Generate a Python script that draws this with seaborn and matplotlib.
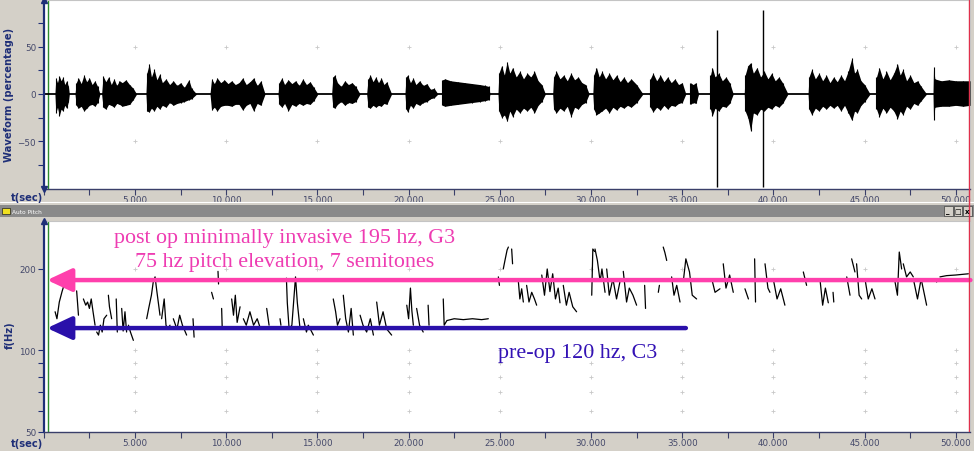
import numpy as np
import pandas as pd
import matplotlib
matplotlib.use("Agg")
import matplotlib.pyplot as plt
from matplotlib.patches import Rectangle
from matplotlib.lines import Line2D
from matplotlib.ticker import FixedLocator, NullFormatter, FixedFormatter
import seaborn as sns

# ---------------- data ----------------
# waveform envelope bursts: (time s, top %, bottom %)
WAVE_BURSTS = [
    [(0.61,0,0),(0.66,17,-20),(0.75,12,-14),(0.85,19,-23),(0.95,14,-16),(1.05,18,-18),(1.15,10,-12),(1.25,14,-15),(1.35,8,-8),(1.40,0,0)],
    [(1.71,0,0),(1.78,12,-12),(1.9,17,-15),(2.05,11,-13),(2.2,20,-18),(2.35,13,-15),(2.5,17,-12),(2.65,10,-11),(2.8,14,-13),(2.95,8,-9),(3.08,0,0)],
    [(3.17,0,0),(3.25,19,-14),(3.4,13,-16),(3.55,18,-11),(3.7,10,-12),(3.85,16,-14),(4.0,9,-10),(4.15,14,-11),(4.3,12,-13),(4.5,15,-12),(4.7,10,-11),(4.9,6,-6),(5.09,0,0)],
    [(5.60,0,0),(5.65,22,-18),(5.78,32,-19),(5.9,18,-15),(6.05,26,-18),(6.2,15,-13),(6.35,21,-16),(6.5,12,-12),(6.7,16,-14),(6.9,10,-9),(7.1,14,-12),(7.3,9,-10),(7.5,12,-9),(7.7,7,-8),(7.95,15,-6),(8.1,6,-5),(8.38,0,0)],
    [(9.11,0,0),(9.2,16,-17),(9.35,11,-14),(9.5,17,-18),(9.7,12,-13),(9.9,15,-12),(10.1,11,-12),(10.3,14,-13),(10.5,10,-11),(10.7,12,-11),(10.9,17,-17),(11.1,10,-12),(11.3,13,-10),(11.5,17,-18),(11.7,9,-10),(11.9,14,-12),(12.13,0,0)],
    [(12.84,0,0),(12.9,12,-11),(13.05,17,-14),(13.2,10,-10),(13.4,15,-18),(13.6,11,-11),(13.8,14,-13),(14.0,9,-10),(14.2,16,-12),(14.4,10,-10),(14.6,13,-11),(14.8,7,-7),(15.03,0,0)],
    [(15.78,0,0),(15.85,18,-14),(15.95,20,-15),(16.1,12,-11),(16.3,8,-8),(16.5,14,-12),(16.7,10,-9),(16.9,12,-10),(17.1,8,-8),(17.34,0,0)],
    [(17.70,0,0),(17.78,16,-14),(17.9,20,-15),(18.05,13,-12),(18.2,18,-14),(18.35,12,-12),(18.5,17,-13),(18.65,10,-10),(18.8,13,-11),(19.07,0,0)],
    [(19.80,0,0),(19.86,18,-16),(19.95,20,-19),(20.1,12,-12),(20.25,17,-15),(20.4,10,-10),(20.6,14,-12),(20.8,9,-9),(21.0,11,-8),(21.2,5,-5),(21.4,6,-4),(21.61,0,0)],
    [(21.81,0,0),(21.85,15,-12),(22.0,16,-13),(22.3,14,-12),(22.7,13,-11),(23.1,12,-10),(23.5,11,-9),(23.9,10,-8),(24.2,9,-7),(24.4,8,-6),(24.46,0,0)],
    [(24.90,0,0),(24.95,22,-18),(25.1,30,-25),(25.25,20,-22),(25.4,34,-29),(25.55,22,-18),(25.7,28,-24),(25.9,18,-16),(26.1,24,-20),(26.3,16,-15),(26.5,22,-18),(26.7,18,-14),(26.9,24,-20),(27.1,14,-12),(27.3,10,-8),(27.50,0,0)],
    [(27.9,0,0),(27.95,18,-16),(28.1,24,-20),(28.3,16,-15),(28.5,20,-18),(28.7,14,-13),(28.9,22,-24),(29.1,15,-14),(29.3,18,-16),(29.5,12,-11),(29.7,10,-9),(29.9,0,0)],
    [(30.1,0,0),(30.15,20,-16),(30.3,28,-22),(30.45,18,-20),(30.6,24,-18),(30.8,16,-15),(31.0,22,-20),(31.2,15,-14),(31.4,20,-17),(31.6,13,-13),(31.8,18,-15),(32.0,12,-12),(32.2,16,-14),(32.5,10,-9),(32.85,0,0)],
    [(33.2,0,0),(33.25,16,-14),(33.4,22,-19),(33.6,14,-14),(33.8,20,-17),(34.0,13,-12),(34.2,18,-16),(34.4,12,-12),(34.6,16,-13),(34.8,10,-10),(35.0,12,-9),(35.2,0,0)],
    [(35.4,0,0),(35.45,12,-11),(35.6,10,-9),(35.75,12,-10),(35.9,0,0)],
    [(36.5,0,0),(36.55,20,-16),(36.65,28,-23),(36.8,18,-15),(37.0,22,-18),(37.2,14,-13),(37.4,18,-14),(37.6,12,-10),(37.8,0,0)],
    [(38.4,0,0),(38.45,20,-18),(38.6,30,-25),(38.75,33,-39),(38.9,22,-20),(39.1,28,-22),(39.3,18,-16),(39.5,24,-18),(39.7,16,-14),(39.9,22,-16),(40.1,14,-12),(40.3,18,-14),(40.5,12,-10),(40.8,0,0)],
    [(41.9,0,0),(41.95,18,-16),(42.1,26,-22),(42.3,16,-15),(42.5,22,-18),(42.7,14,-13),(42.9,20,-16),(43.1,12,-12),(43.3,18,-15),(43.5,13,-12),(43.7,20,-18),(43.9,14,-12),(44.1,24,-20),(44.3,38,-28),(44.45,22,-18),(44.6,26,-20),(44.8,14,-12),(45.0,10,-8),(45.3,0,0)],
    [(45.6,0,0),(45.65,18,-16),(45.8,28,-24),(46.0,16,-15),(46.2,24,-20),(46.4,15,-14),(46.6,22,-18),(46.8,32,-26),(46.95,20,-18),(47.1,26,-22),(47.3,14,-13),(47.5,20,-16),(47.7,12,-10),(47.9,14,-12),(48.1,8,-7),(48.4,0,0)],
    [(48.75,0,0),(48.78,29,-27),(48.85,16,-14),(49.2,14,-13),(49.6,15,-13),(50.0,14,-12),(50.4,14,-13),(50.78,14,-12)],
]
SPIKE_T = [36.91, 39.43]
SPIKE_TOP = [68, 89]
SPIKE_BOT = [-98, -98]

# pitch contour pieces: (time s, Hz)
PITCH_SEGMENTS = [
    [(0.62,139),(0.72,131),(0.85,151),(1.0,165),(1.16,179)],
    [(1.80,166),(1.85,150),(1.90,135)],
    [(2.17,155),(2.3,147),(2.4,151),(2.5,143),(2.6,155),(2.7,139),(2.81,124)],
    [(2.90,117),(3.0,114),(3.1,124),(3.2,117),(3.3,131),(3.45,135)],
    [(3.54,160),(3.60,145),(3.72,131)],
    [(3.97,155),(4.0,135),(4.03,117)],
    [(4.27,143),(4.35,118),(4.45,139),(4.54,117)],
    [(4.64,124),(4.75,117),(4.91,109)],
    [(5.64,131),(5.75,143),(5.9,160),(6.0,179),(6.1,187),(6.2,165),(6.37,135)],
    [(6.46,131),(6.6,155),(6.7,124),(6.8,120),(6.92,124)],
    [(7.1,131),(7.3,120),(7.45,135),(7.6,124),(7.83,114)],
    [(8.18,131),(8.24,112)],
    [(9.2,164),(9.3,155)],
    [(9.55,196),(9.58,176)],
    [(9.75,143),(9.78,122)],
    [(10.3,155),(10.4,135),(10.5,160),(10.6,127),(10.76,145)],
    [(10.94,131),(11.1,124),(11.3,139),(11.5,124),(11.7,131),(11.85,122)],
    [(12.22,143),(12.35,124)],
    [(12.95,131),(13.0,124)],
    [(13.3,185),(13.35,150),(13.45,120),(13.6,124),(13.8,187),(13.9,150),(14.05,120)],
    [(14.23,131),(14.4,117),(14.5,124),(14.78,114)],
    [(15.87,155),(16.0,139),(16.1,124),(16.24,131)],
    [(16.42,160),(16.55,131),(16.7,117),(16.85,143),(16.97,114)],
    [(17.34,135),(17.5,124),(17.7,117),(17.9,131),(18.07,114)],
    [(18.25,151),(18.4,124),(18.6,139),(18.8,120),(19.07,114)],
    [(19.9,147),(20.0,131),(20.1,170),(20.18,140),(20.26,124)],
    [(20.44,143),(20.6,124),(20.8,117)],
    [(21.07,147),(21.12,124)],
    [(21.9,155),(21.95,124),(22.1,129),(22.5,131),(23.0,130),(23.5,131),(24.0,130),(24.37,131)],
    [(24.92,187),(24.98,174)],
    [(25.19,200),(25.3,218),(25.4,235),(25.47,241)],
    [(25.65,237),(25.7,209)],
    [(26.02,179),(26.1,155),(26.2,169),(26.29,151)],
    [(26.47,174),(26.6,151),(26.75,164),(26.9,155),(27.02,147)],
    [(27.30,190),(27.45,160),(27.6,200),(27.75,165),(27.9,192),(28.05,155),(28.2,170),(28.30,150)],
    [(28.48,174),(28.65,147),(28.8,164),(29.0,145),(29.21,139)],
    [(30.04,160),(30.1,237),(30.2,232)],
    [(30.22,237),(30.35,215),(30.5,180),(30.6,200),(30.77,164)],
    [(30.86,200),(31.0,160),(31.2,184),(31.4,155),(31.59,180)],
    [(31.77,196),(31.95,151),(32.1,170),(32.3,160),(32.5,147)],
    [(32.94,174),(32.99,143)],
    [(33.69,164),(33.75,174)],
    [(33.96,241),(34.05,230),(34.15,215)],
    [(34.42,187),(34.55,160),(34.7,174),(34.88,151)],
    [(35.06,180),(35.2,218),(35.4,195),(35.55,160),(35.79,155)],
    [(36.62,184),(36.8,164),(37.07,169)],
    [(37.25,209),(37.4,170),(37.6,190),(37.8,164)],
    [(38.44,169),(38.63,155)],
    [(38.97,218),(39.02,151)],
    [(39.54,209),(39.7,170),(39.81,164)],
    [(39.99,184),(40.2,155),(40.4,169),(40.63,147)],
    [(41.64,195),(41.82,174)],
    [(42.55,184),(42.7,147),(42.85,170),(43.01,150)],
    [(43.27,164),(43.31,151)],
    [(44.02,187),(44.2,160)],
    [(44.29,218),(44.47,195)],
    [(44.56,209),(44.7,160),(44.84,155)],
    [(45.02,184),(45.2,155),(45.4,169),(45.57,155)],
    [(46.67,179),(46.8,160),(46.9,231),(47.03,200)],
    [(47.12,209),(47.3,187),(47.5,195),(47.67,187)],
    [(47.7,180),(47.9,155),(48.1,184),(48.40,147)],
    [(48.86,184),(48.95,179)],
    [(49.13,187),(49.5,189),(50.0,190),(50.69,192)],
]

X_TICKS = [5, 10, 15, 20, 25, 30, 35, 40, 45, 50]
X_MINOR = [0, 2.5, 7.5, 12.5, 17.5, 22.5, 27.5, 32.5, 37.5, 42.5, 47.5]
X_LABELS = ["5.000", "10.000", "15.000", "20.000", "25.000", "30.000", "35.000", "40.000", "45.000", "50.000"]
WAVE_TICKS = [-50, 0, 50]
WAVE_MINOR = [-75, -25, 25, 75]
PITCH_TICKS = [50, 100, 200]
PITCH_MINOR = [60, 70, 80, 90]

POST_OP_HZ = 182
PRE_OP_HZ = 121
POST_TEXT = "post op minimally invasive 195 hz, G3\n75 hz pitch elevation, 7 semitones"
PRE_TEXT = "pre-op 120 hz, C3"
GREEN_T = 0.23
RED_T = 50.72

# ---------------- figure ----------------
sns.set_theme(style="white")
plt.rcParams["font.family"] = ["DejaVu Sans"]
BG = "#d4d0c8"
NAVY = "#1f2f78"
LBL = "#44486a"

W_PX, H_PX = 974, 452
fig = plt.figure(figsize=(W_PX / 100, H_PX / 100), dpi=100, facecolor=BG)

L = 43.8 / W_PX
WID = (970.4 - 43.8) / W_PX
ax1 = fig.add_axes([L, 1 - 189.5 / H_PX, WID, 189.0 / H_PX])
ax2 = fig.add_axes([L, 1 - 433.0 / H_PX, WID, 210.7 / H_PX])

for ax in (ax1, ax2):
    ax.set_facecolor("white")
    ax.set_xlim(0, 50.8)
    for s in ("top", "right"):
        ax.spines[s].set_color("#c4c4c4")
        ax.spines[s].set_linewidth(0.8)
    ax.spines["left"].set_color(NAVY)
    ax.spines["left"].set_linewidth(1.6)
    ax.spines["bottom"].set_color("#3a3f6a")
    ax.spines["bottom"].set_linewidth(1.0)
    ax.xaxis.set_major_locator(FixedLocator(X_TICKS))
    ax.xaxis.set_major_formatter(FixedFormatter(X_LABELS))
    ax.xaxis.set_minor_locator(FixedLocator(X_MINOR))
    ax.tick_params(axis="x", which="both", direction="out", length=4, width=0.8,
                   color="#3a3f6a", labelsize=6.3, labelcolor=LBL, pad=0.5, bottom=True)
    ax.tick_params(axis="y", which="both", direction="out", length=4, width=0.8,
                   color=NAVY, labelsize=6.3, labelcolor=LBL, pad=1.5, left=True)
    ax.axvline(GREEN_T, color="#2e8b2e", lw=1.0, zorder=1)
    ax.axvline(RED_T, color="#e0304c", lw=1.0, zorder=6)

# ---- waveform panel ----
ax1.set_ylim(-100, 100)
ax1.yaxis.set_major_locator(FixedLocator(WAVE_TICKS))
ax1.yaxis.set_minor_locator(FixedLocator(WAVE_MINOR))
ax1.yaxis.set_minor_formatter(NullFormatter())
gx, gy = np.meshgrid(X_TICKS, [-50, 50])
ax1.plot(gx.ravel(), gy.ravel(), ls="none", marker="+", ms=3, mew=0.6, color="#c8c8c8", zorder=1)
ax1.axhline(0, color="black", lw=1.3, zorder=2)
for burst in WAVE_BURSTS:
    arr = np.array(burst, dtype=float)
    ax1.fill_between(arr[:, 0], arr[:, 2], arr[:, 1], color="black", lw=0, zorder=3)
    ax1.vlines(arr[:, 0], arr[:, 2], arr[:, 1], color="black", lw=0.8, zorder=3)
ax1.vlines(SPIKE_T, SPIKE_BOT, SPIKE_TOP, color="black", lw=1.0, zorder=3)
ax1.plot([0], [1], marker="^", ms=5, color=NAVY, transform=ax1.transAxes, clip_on=False, zorder=7)
ax1.plot([0], [0], marker="v", ms=5, color=NAVY, transform=ax1.transAxes, clip_on=False, zorder=7)

# ---- pitch panel ----
rows = []
for i, seg in enumerate(PITCH_SEGMENTS):
    for t, f in seg:
        rows.append({"seg": i, "t": t, "f": f})
pitch_df = pd.DataFrame(rows)
ax2.set_yscale("log")
ax2.set_ylim(50, 300)
gx, gy = np.meshgrid(X_TICKS, PITCH_MINOR + [100, 200])
ax2.plot(gx.ravel(), gy.ravel(), ls="none", marker="+", ms=3, mew=0.6, color="#c8c8c8", zorder=1)
sns.lineplot(data=pitch_df, x="t", y="f", units="seg", estimator=None, color="black",
             lw=0.9, ax=ax2, legend=False, zorder=3)
ax2.set_xlabel("")
ax2.set_ylabel("")
ax2.yaxis.set_major_locator(FixedLocator(PITCH_TICKS))
ax2.yaxis.set_major_formatter(FixedFormatter([str(v) for v in PITCH_TICKS]))
ax2.yaxis.set_minor_locator(FixedLocator(PITCH_MINOR))
ax2.yaxis.set_minor_formatter(NullFormatter())
ax2.tick_params(axis="y", which="both", direction="out", length=4, width=0.8,
                color=NAVY, labelsize=6.3, labelcolor=LBL, pad=1.5, left=True)
ax2.plot([0], [1], marker="^", ms=5, color=NAVY, transform=ax2.transAxes, clip_on=False, zorder=7)

PINK = "#ff3fac"
BLUE = "#2a10aa"
ax2.annotate("", xy=(0.18, POST_OP_HZ), xytext=(50.8, POST_OP_HZ),
             arrowprops=dict(arrowstyle="-|>,head_length=0.75,head_width=0.35", color=PINK,
                             lw=3.2, mutation_scale=20, shrinkA=0, shrinkB=0), zorder=5)
ax2.annotate("", xy=(0.18, PRE_OP_HZ), xytext=(35.2, PRE_OP_HZ),
             arrowprops=dict(arrowstyle="-|>,head_length=0.75,head_width=0.35", color=BLUE,
                             lw=3.2, mutation_scale=20, shrinkA=0, shrinkB=0), zorder=5)
ax2.text(13.2, 236, POST_TEXT, color="#ee3cb2", fontsize=15.8, ha="center", va="center",
         family=["Liberation Serif", "DejaVu Serif"], linespacing=1.3, zorder=6)
ax2.text(24.9, 98.5, PRE_TEXT, color="#3312b5", fontsize=15.8, ha="left", va="center",
         family=["Liberation Serif", "DejaVu Serif"], zorder=6)

# ---- axis titles ----
fig.text(9.5 / W_PX, 1 - 95 / H_PX, "Waveform (percentage)", rotation=90, color=NAVY,
         fontsize=7.2, fontweight="bold", ha="center", va="center")
fig.text(9.5 / W_PX, 1 - 335 / H_PX, "f(Hz)", rotation=90, color=NAVY,
         fontsize=7.2, fontweight="bold", ha="center", va="center")
fig.text(27 / W_PX, 1 - 198.5 / H_PX, "t(sec)", color=NAVY, fontsize=7.2,
         fontweight="bold", ha="center", va="center")
fig.text(27 / W_PX, 1 - 444.5 / H_PX, "t(sec)", color=NAVY, fontsize=7.2,
         fontweight="bold", ha="center", va="center")

# ---- "Auto Pitch" window title bar ----
fig.add_artist(Line2D([0, 1], [1 - 203 / H_PX] * 2, color="white", lw=0.8, transform=fig.transFigure))
fig.patches.append(Rectangle((0, 1 - 218 / H_PX), 1, 12 / H_PX, transform=fig.transFigure,
                             facecolor="#8a8a8a", edgecolor="none", zorder=0))
fig.patches.append(Rectangle((2 / W_PX, 1 - 215 / H_PX), 8 / W_PX, 6 / H_PX, transform=fig.transFigure,
                             facecolor="#f0e020", edgecolor="#202020", lw=0.5))
fig.text(12 / W_PX, 1 - 212 / H_PX, "Auto Pitch", color="white", fontsize=4.2, va="center", ha="left")
for k, glyph in enumerate(["_", "□", "x"]):
    x0 = 944 + k * 9.5
    fig.patches.append(Rectangle((x0 / W_PX, 1 - 217 / H_PX), 8.5 / W_PX, 10 / H_PX,
                                 transform=fig.transFigure, facecolor=BG, edgecolor="#404040", lw=0.5))
    fig.text((x0 + 4.25) / W_PX, 1 - 212 / H_PX, glyph, color="black", fontsize=5,
             ha="center", va="center", fontweight="bold")
fig.add_artist(Line2D([RED_T / 50.8 * WID + L] * 2, [1 - 222 / H_PX, 1 - 190 / H_PX],
                      color="#e0304c", lw=1.0, transform=fig.transFigure))

fig.savefig("out.png", dpi=100, facecolor=BG)
